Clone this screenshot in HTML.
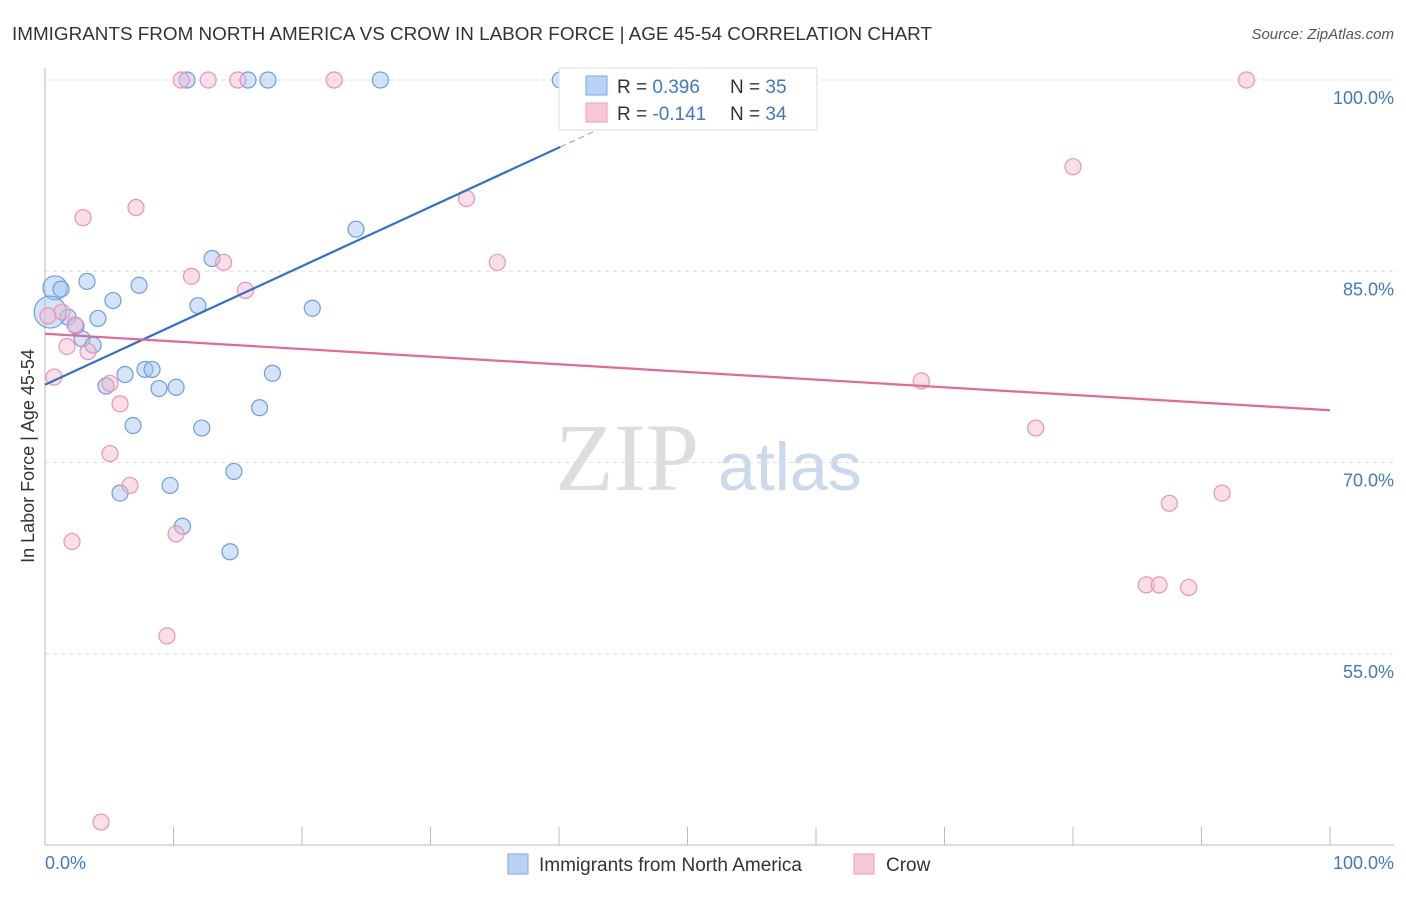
<!DOCTYPE html>
<html><head><meta charset="utf-8"><style>
body{margin:0;background:#fff;font-family:"Liberation Sans",sans-serif;}
</style></head><body>
<svg id="c" width="1406" height="892" xmlns="http://www.w3.org/2000/svg">
<text x="12" y="40" font-size="18" fill="#333" textLength="920" lengthAdjust="spacingAndGlyphs">IMMIGRANTS FROM NORTH AMERICA VS CROW IN LABOR FORCE | AGE 45-54 CORRELATION CHART</text>
<text x="1394" y="39" font-size="15" fill="#555" font-style="italic" text-anchor="end">Source: ZipAtlas.com</text>
<text x="555" y="490" font-size="96" fill="#ddd" font-family="Liberation Serif,serif">ZIP</text>
<text x="718" y="490" font-size="68" fill="#c9d9ee">atlas</text>
<g id="grid"></g><g id="pts"></g><g id="lines"></g>
<text transform="translate(34,456) rotate(-90)" font-size="18" fill="#333" text-anchor="middle">In Labor Force | Age 45-54</text>
<text x="45" y="869" font-size="18" fill="#3b78d8">0.0%</text>
<text x="1394" y="869" font-size="18" fill="#3b78d8" text-anchor="end">100.0%</text>
<g>
<rect x="559" y="68" width="258" height="62" fill="#fff" stroke="#ddd"/>
<rect x="586" y="76" width="21" height="19" fill="#b8d3f5" stroke="#7aa7e6"/>
<rect x="586" y="103" width="21" height="19" fill="#f9c6d6" stroke="#ef9bb6"/>
<text x="617" y="93" font-size="19" fill="#333">R = <tspan fill="#3b78d8">0.396</tspan></text>
<text x="730" y="93" font-size="19" fill="#333">N = <tspan fill="#3b78d8">35</tspan></text>
<text x="617" y="120" font-size="19" fill="#333">R = <tspan fill="#3b78d8">-0.141</tspan></text>
<text x="730" y="120" font-size="19" fill="#333">N = <tspan fill="#3b78d8">34</tspan></text>
</g>
<g>
<rect x="508" y="854" width="20" height="20" fill="#b8d3f5" stroke="#7aa7e6"/>
<text x="539" y="871" font-size="19" fill="#333">Immigrants from North America</text>
<rect x="854" y="854" width="20" height="20" fill="#f9c6d6" stroke="#ef9bb6"/>
<text x="886" y="871" font-size="19" fill="#333">Crow</text>
</g>
</svg>
<script>
const yTicks=[100,85,70,55];
const yTickLabels=["100.0%","85.0%","70.0%","55.0%"];
const blueX=[0.78,1.25,3.27,5.29,7.32,13.0,11.9,24.2,20.8,1.79,4.12,2.41,2.88,3.74,4.75,6.23,7.78,8.33,8.87,10.2,17.7,16.7,6.85,12.2,14.7,9.73,5.84,10.7,14.4,11.05,15.8,17.35,26.1,40.1,0.4];
const blueY=[83.7,83.6,84.2,82.7,83.9,86.0,82.3,88.3,82.1,81.4,81.3,80.7,79.7,79.2,76.0,76.9,77.3,77.3,75.8,75.9,77.0,74.3,72.9,72.7,69.3,68.2,67.6,65.0,63.0,100,100,100,100,100,81.8];
const blueR=[12,8,8,8,8,8,8,8,8,8,8,8,8,8,8,8,8,8,8,8,8,8,8,8,8,8,8,8,8,8,8,8,8,8,16];
const pinkX=[2.96,7.08,11.4,13.9,15.6,32.8,35.2,1.32,2.33,1.71,3.35,0.7,5.06,5.84,5.06,6.61,2.1,10.2,9.49,4.36,10.6,12.7,15.0,22.5,93.5,80.0,68.2,77.1,87.5,91.6,85.7,86.7,89.0,0.23];
const pinkY=[89.2,90.0,84.6,85.7,83.5,90.7,85.7,81.8,80.8,79.1,78.7,76.7,76.2,74.6,70.7,68.2,63.8,64.4,56.4,41.8,100,100,100,100,100,93.2,76.4,72.7,66.8,67.6,60.4,60.4,60.2,81.5];
const blueTrend=[[0,76.1],[40.1,94.75]];
const blueTrendExt=[[40.1,94.75],[45,97.0]];
const pinkTrend=[[0,80.1],[100,74.1]];
const xs=v=>45+v*12.85, ys=v=>80+(100-v)*12.75;
const NS="http://www.w3.org/2000/svg";
function mk(t,a,p){const e=document.createElementNS(NS,t);for(const k in a)e.setAttribute(k,a[k]);p.appendChild(e);return e;}
const g=document.getElementById('grid'),pts=document.getElementById('pts'),ln=document.getElementById('lines'),svg=document.getElementById('c');
yTicks.forEach((t,i)=>{const l=mk('line',{x1:45,x2:1394,y1:ys(t),y2:ys(t),stroke:'#ddd','stroke-dasharray':'4,4'},g);


const tx=mk('text',{x:1394,y:ys(t)+24,'font-size':18,fill:'#3b78d8','text-anchor':'end'},svg);tx.textContent=yTickLabels[i];

});
const ax=mk('line',{x1:45,x2:45,y1:68,y2:845,stroke:'#bbb'},g);


const bx=mk('line',{x1:45,x2:1394,y1:845,y2:845,stroke:'#bbb'},g);


for(let i=0;i<=10;i++){const t=mk('line',{x1:xs(i*10),x2:xs(i*10),y1:827,y2:845,stroke:'#bbb'},g);

}
blueX.forEach((x,i)=>{const c=mk('circle',{cx:xs(x),cy:ys(blueY[i]),r:blueR[i],fill:'rgba(160,196,240,0.45)',stroke:'#6a9ee0','stroke-width':1.2},pts);

});
pinkX.forEach((x,i)=>{const c=mk('circle',{cx:xs(x),cy:ys(pinkY[i]),r:8,fill:'rgba(247,182,204,0.45)',stroke:'#ec93b2','stroke-width':1.2},pts);

});
const l1=mk('line',{x1:xs(blueTrend[0][0]),y1:ys(blueTrend[0][1]),x2:xs(blueTrend[1][0]),y2:ys(blueTrend[1][1]),stroke:'#2c6fd6','stroke-width':2.2},ln);


const l2=mk('line',{x1:xs(blueTrendExt[0][0]),y1:ys(blueTrendExt[0][1]),x2:xs(blueTrendExt[1][0]),y2:ys(blueTrendExt[1][1]),stroke:'#8fb1e6','stroke-width':1.2,'stroke-dasharray':'6,4'},ln);


const l3=mk('line',{x1:xs(pinkTrend[0][0]),y1:ys(pinkTrend[0][1]),x2:xs(pinkTrend[1][0]),y2:ys(pinkTrend[1][1]),stroke:'#e5689a','stroke-width':2.2},ln);


</script>
</body></html>
